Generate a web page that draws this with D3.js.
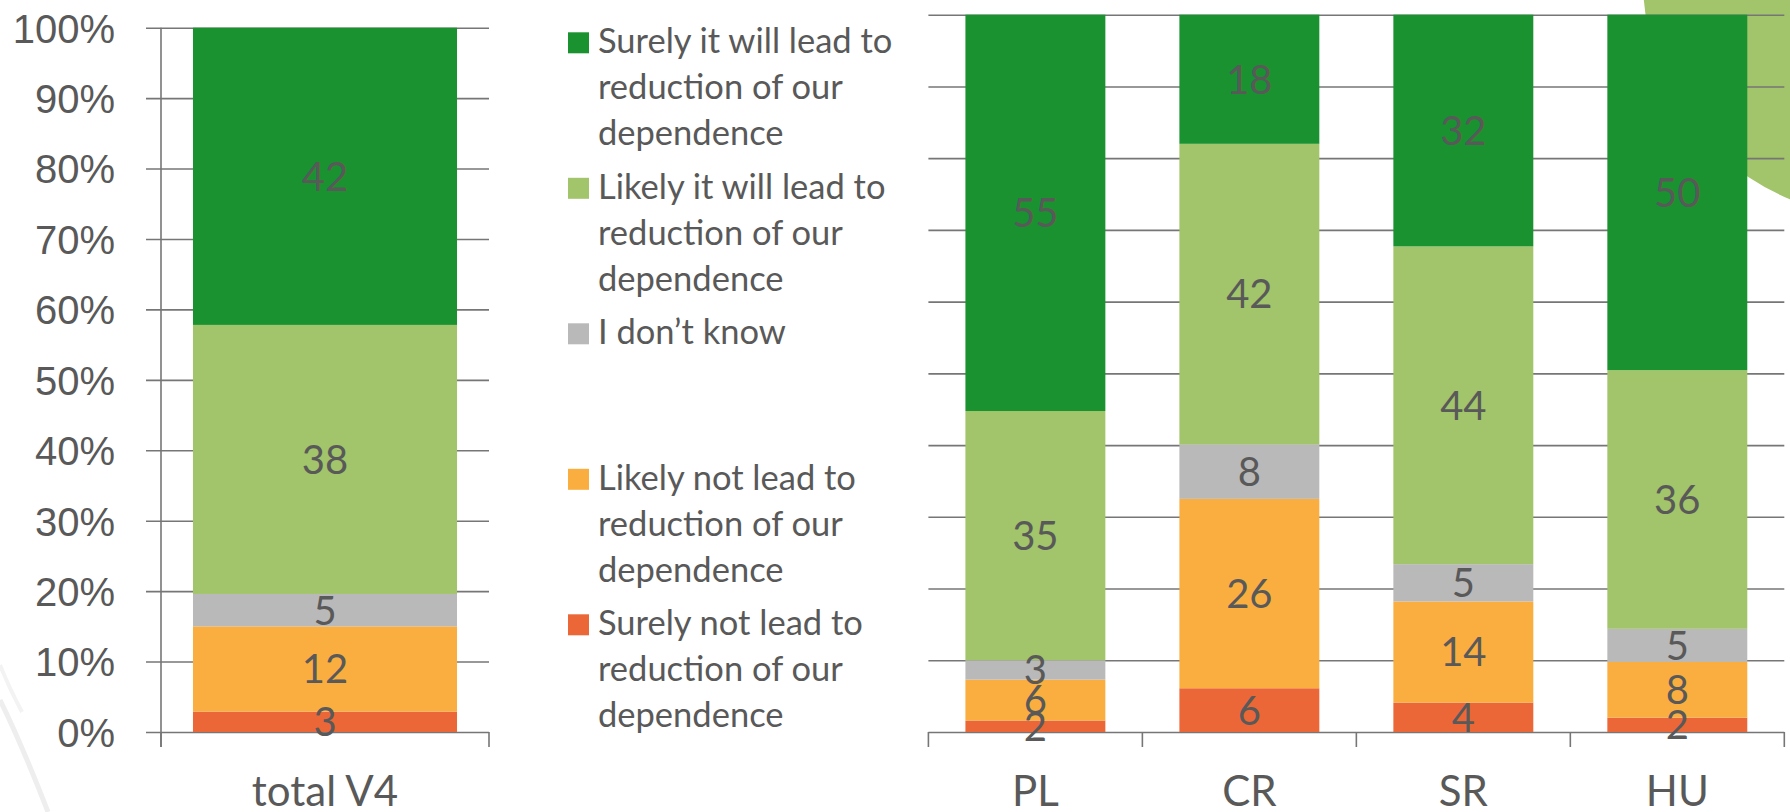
<!DOCTYPE html>
<html>
<head>
<meta charset="utf-8">
<script src="https://cdn.jsdelivr.net/npm/d3@7"></script>
<style>
  html, body { margin: 0; padding: 0; background: #fff; }
  svg { display: block; font-family: Lato, "Open Sans", sans-serif; }
</style>
</head>
<body>
<svg id="chart" width="1790" height="812"></svg>
<script>
// categories: left chart has the V4 total, right chart the four countries
const categories = ['total V4', 'PL', 'CR', 'SR', 'HU'];
const leftCategories = ['total V4'];
const rightCategories = ['PL', 'CR', 'SR', 'HU'];

// series, bottom of the stack first (in %)
const seriesKeys = ['surelyNot', 'likelyNot', 'dontKnow', 'likely', 'surely'];
const surelyNot = [2.9, 1.6, 6.1, 4.1, 2.0];
const likelyNot = [12.1, 5.7, 26.4, 14.1, 7.8];
const dontKnow = [4.6, 2.7, 7.6, 5.2, 4.6];
const likely = [38.2, 34.75, 41.9, 44.3, 36.1];
const surely = [42.2, 55.25, 18.0, 32.3, 49.6];

const seriesColors = ['#ec6737', '#fbae40', '#b9b9b9', '#a2c46a', '#1a9230'];

// legend is listed top series first
const legendLines = [
  ['Surely it will lead to', 'reduction of our', 'dependence'],
  ['Likely it will lead to', 'reduction of our', 'dependence'],
  ['I don\u2019t know'],
  ['Likely not lead to', 'reduction of our', 'dependence'],
  ['Surely not lead to', 'reduction of our', 'dependence']
];
const legendColors = ['#1a9230', '#a2c46a', '#b9b9b9', '#fbae40', '#ec6737'];

const yTicks = [0, 0.1, 0.2, 0.3, 0.4, 0.5, 0.6, 0.7, 0.8, 0.9, 1];

const textColor = '#595959';
const lineColor = '#767676';

const table = categories.map((c, i) => ({
  category: c,
  surelyNot: surelyNot[i],
  likelyNot: likelyNot[i],
  dontKnow: dontKnow[i],
  likely: likely[i],
  surely: surely[i]
}));

const stacked = d3.stack().keys(seriesKeys).offset(d3.stackOffsetExpand)(table);

const svg = d3.select('#chart');

// background decoration of the slide
svg.append('circle')
  .attr('cx', 1880).attr('cy', -20).attr('r', 237)
  .attr('fill', '#a2c46a');
svg.append('path')
  .attr('d', 'M0,700 Q20,740 48,812')
  .attr('fill', 'none').attr('stroke', '#eeeeee').attr('stroke-width', 5);
svg.append('path')
  .attr('d', 'M0,665 Q10,690 22,712')
  .attr('fill', 'none').attr('stroke', '#f3f3f3').attr('stroke-width', 4);

function drawPanel (opts) {
  const cats = opts.categories;
  const x = d3.scaleBand()
    .domain(cats)
    .range([opts.x0, opts.x1])
    .paddingInner(opts.gap)
    .paddingOuter(opts.gap / 2);
  const y = d3.scaleLinear().domain([0, 1]).range([opts.yBottom, opts.yTop]);

  const g = svg.append('g');

  // gridlines (+ tick labels on the left panel)
  const gridLeft = opts.gridStart;
  const axis = d3.axisLeft(y)
    .tickValues(yTicks)
    .tickSizeInner(opts.x1 - gridLeft)
    .tickSizeOuter(0)
    .tickPadding(opts.showLabels ? gridLeft - opts.labelRight : 0)
    .tickFormat(opts.showLabels ? d3.format('.0%') : '');
  const ga = g.append('g')
    .attr('transform', `translate(${opts.x1},0)`)
    .call(axis);
  ga.select('.domain').remove();
  ga.selectAll('.tick line').attr('stroke', lineColor).attr('stroke-width', 1.6);
  ga.selectAll('.tick text')
    .attr('fill', textColor)
    .style('font-size', '40px')
    .attr('dy', '0.36em');

  // vertical axis line
  if (opts.showLabels) {
    g.append('line')
      .attr('x1', opts.x0).attr('x2', opts.x0)
      .attr('y1', opts.yTop).attr('y2', opts.yBottom + 15)
      .attr('stroke', lineColor).attr('stroke-width', 1.6);
  }

  // category boundary ticks on the horizontal axis
  const half = (x.step() - x.bandwidth()) / 2;
  const bounds = cats.map(c => x(c) - half).concat([opts.x1]);
  g.selectAll('.xtick')
    .data(bounds)
    .join('line')
    .attr('x1', d => d).attr('x2', d => d)
    .attr('y1', opts.yBottom).attr('y2', opts.yBottom + 15)
    .attr('stroke', lineColor).attr('stroke-width', 1.6);

  // bars
  const rows = stacked.map((s, si) => ({
    key: s.key,
    color: seriesColors[si],
    points: s.filter(p => cats.includes(p.data.category))
  }));

  g.selectAll('.layer')
    .data(rows)
    .join('g')
    .attr('fill', d => d.color)
    .selectAll('rect')
    .data(d => d.points)
    .join('rect')
    .attr('x', p => x(p.data.category))
    .attr('width', x.bandwidth())
    .attr('y', p => y(p[1]))
    .attr('height', p => y(p[0]) - y(p[1]));

  // data labels
  const labels = [];
  rows.forEach(r => r.points.forEach(p => labels.push({
    cat: p.data.category,
    value: p.data[r.key],
    mid: (p[0] + p[1]) / 2
  })));
  g.selectAll('.dl')
    .data(labels)
    .join('text')
    .attr('x', d => x(d.cat) + x.bandwidth() / 2)
    .attr('y', d => y(d.mid))
    .attr('dy', '0.36em')
    .attr('text-anchor', 'middle')
    .attr('fill', textColor)
    .style('font-size', '40px')
    .text(d => Math.round(d.value));

  // category labels
  g.selectAll('.cl')
    .data(cats)
    .join('text')
    .attr('x', c => x(c) + x.bandwidth() / 2)
    .attr('y', 806)
    .attr('text-anchor', 'middle')
    .attr('fill', textColor)
    .style('font-size', '42px')
    .text(c => c);
}

drawPanel({
  categories: leftCategories,
  x0: 161, x1: 489, gap: 0.195,
  gridStart: 146, labelRight: 115,
  yTop: 27.7, yBottom: 732,
  showLabels: true
});

drawPanel({
  categories: rightCategories,
  x0: 928.4, x1: 1784.3, gap: 0.346,
  gridStart: 928.4,
  yTop: 14.7, yBottom: 732,
  showLabels: false
});

// legend
const legend = svg.append('g').attr('transform', 'translate(568,0)');
const entry = legend.selectAll('g')
  .data(legendLines)
  .join('g')
  .attr('transform', (d, i) => `translate(0,${53.3 + i * 145.5})`);
entry.append('rect')
  .attr('x', 0).attr('y', -21)
  .attr('width', 21).attr('height', 21)
  .attr('fill', (d, i) => legendColors[i]);
entry.append('text')
  .attr('fill', textColor)
  .style('font-size', '34.5px')
  .selectAll('tspan')
  .data(d => d)
  .join('tspan')
  .attr('x', 30)
  .attr('y', (d, i) => i * 46)
  .text(d => d);
</script>
</body>
</html>
